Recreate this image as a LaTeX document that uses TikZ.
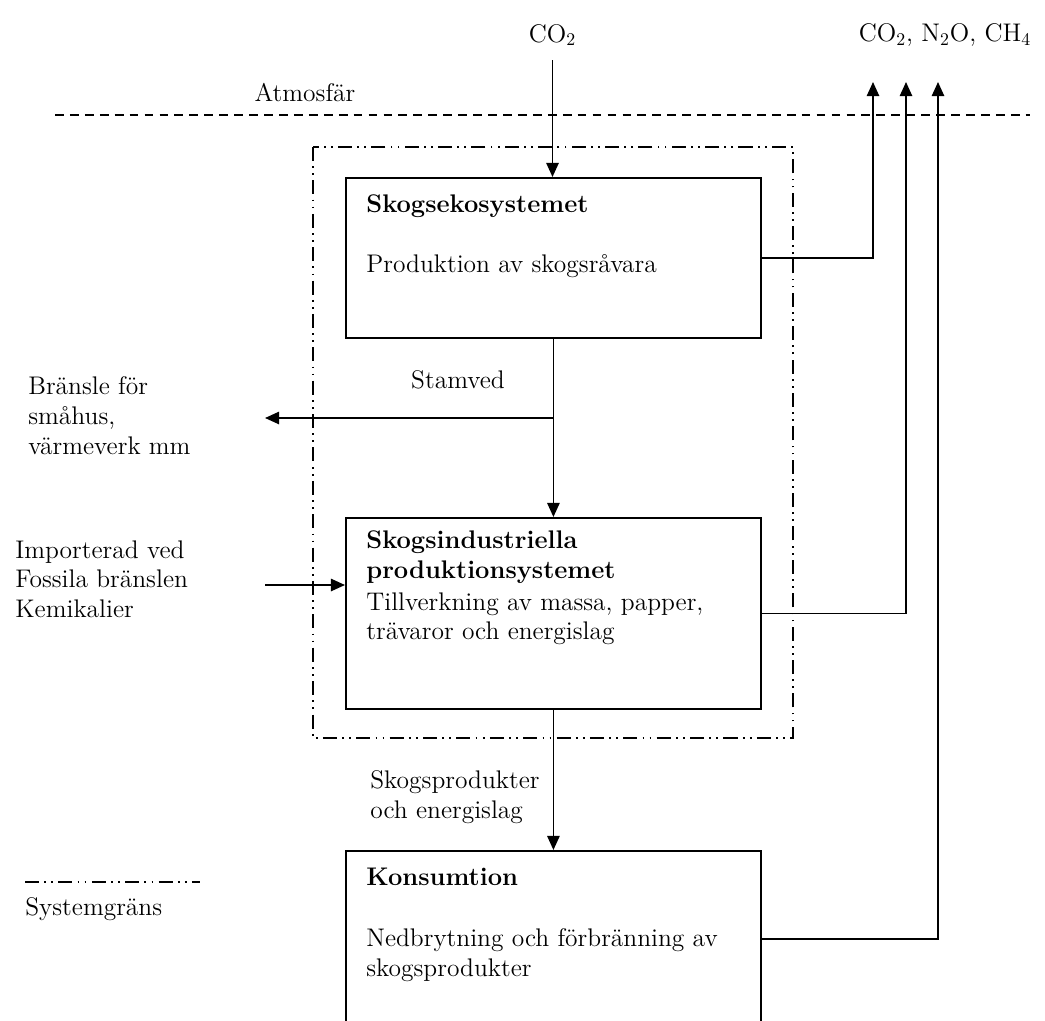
\documentclass[tikz,border=0pt]{standalone}
\usepackage{fontspec}
\usetikzlibrary{arrows.meta,positioning}

\newcommand{\txtsize}{\fontsize{14.5}{17}\selectfont}

\begin{document}
\begin{tikzpicture}[x=0.02cm, y=-0.02cm,
  box/.style={draw, rectangle, line width=1.1pt, anchor=north west, inner sep=0pt},
  lbl/.style={font=\txtsize, inner sep=0pt, align=left},
  head/.style={font=\txtsize\bfseries, inner sep=0pt, align=left, anchor=north west},
  body/.style={lbl, anchor=north west},
  flow/.style={line width=1pt, -{Triangle[length=8pt,width=7pt]}},
  sysgrans/.style={line width=1.1pt, dash pattern=on 8pt off 3pt on 1pt off 3pt on 1pt off 3pt}]

\clip (0,0) rectangle (1045,1021);

% atmosfär
\draw[line width=0.8pt, dash pattern=on 5pt off 3.5pt] (55,115) coordinate (atmL) -- (1030,115) coordinate (atmR);
\node[lbl] (atm) at (305,93) {Atmosfär};
\node[lbl] (co2) at (552.5,35) {CO\textsubscript{2}};
\node[lbl] (utsl) at (945,35) {CO\textsubscript{2}, N\textsubscript{2}O, CH\textsubscript{4}};
\coordinate (ut1) at (873,82);
\coordinate (ut2) at (906,82);
\coordinate (ut3) at (938,82);

% systemgräns
\draw[sysgrans] (313,147) rectangle (793,738);

\node[box, minimum width=8.3cm, minimum height=3.2cm] (eko) at (345,177) {};
\node[box, minimum width=8.3cm, minimum height=3.82cm] (ind) at (345,517) {};
\node[box, minimum width=8.3cm, minimum height=3.52cm] (kons) at (345,850) {};

\node[head] (ekohead) at (366,194) {Skogsekosystemet};
\node[body] (ekotext) at (366,254) {Produktion av skogsråvara};
\node[head] (indhead) at (366,530) {Skogsindustriella\\produktionsystemet};
\node[body] (indtext) at (366,592) {Tillverkning av massa, papper,\\trävaror och energislag};
\node[head] (konshead) at (366,868) {Konsumtion};
\node[body] (konstext) at (366,928) {Nedbrytning och förbränning av\\skogsprodukter};

\node[lbl] (stam) at (458,380) {Stamved};
\node[body] (bransle) at (28,376) {Bränsle för\\småhus,\\värmeverk mm};
\node[body] (import) at (15,540) {Importerad ved\\Fossila bränslen\\Kemikalier};
\node[body] (prod) at (370,770) {Skogsprodukter\\och energislag};

\coordinate (gren) at (552.5,418);
\coordinate (brtip) at (265,418);
\coordinate (imp) at (265,585);

\draw[flow] ([yshift=-8pt]co2.south) -- (co2.south |- eko.north);
\draw[flow] (eko.south) -- (ind.north);
\draw[flow] (gren) -- (brtip);
\draw[flow] (imp) -- (imp -| ind.west);
\draw[flow] (ind.south) -- (kons.north);
\draw[flow] (eko.east) -| (ut1);
\draw[flow] (ind.east) -| (ut2);
\draw[flow] (kons.east) -| (ut3);

% legend
\draw[sysgrans] (25,882) -- (200,882);
\node[body] (legtxt) at (25,897) {Systemgräns};

\end{tikzpicture}
\end{document}
